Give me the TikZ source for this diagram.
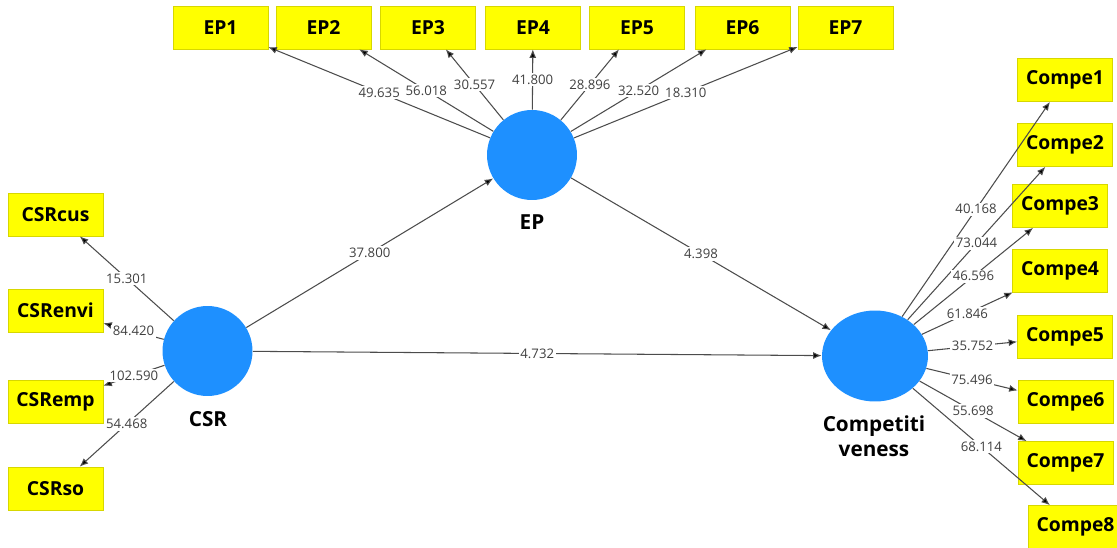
\documentclass[tikz,border=0pt]{standalone}
\usepackage{fontspec}
\setmainfont{Open Sans}
\usepackage{tikz}
\usepackage{xcolor}
\usetikzlibrary{arrows.meta, positioning, shapes.geometric}
\definecolor{lvblue}{RGB}{30,144,255}
\definecolor{mvyellow}{RGB}{255,255,0}
\definecolor{mvborder}{RGB}{215,215,0}
\tikzset{
    latent/.style={circle, fill=lvblue, minimum size=1.8cm, inner sep=0pt}, % blue constructs
    indicator/.style={rectangle, fill=mvyellow, draw=mvborder, minimum width=1.9cm, minimum height=0.86cm, inner sep=0pt, font=\bfseries\fontsize{11}{13}\selectfont}, % yellow items
    lvname/.style={font=\bfseries\fontsize{11.8}{14.2}\selectfont, align=center, inner sep=0pt}, % names under the constructs
    load/.style={draw=black!70, line width=0.6pt, -{Latex[length=0.17cm,width=0.14cm]}}, % arrows
    coef/.style={midway, fill=white, inner sep=1pt, text=black!75, font=\fontsize{7.5}{9}\selectfont}, % t values
}

\begin{document}
\begin{tikzpicture}[x=0.02cm, y=-0.02cm]
    \useasboundingbox (0,0) rectangle (1117,548);

    % Konstrukte
    \node[latent] (csr) at (207.5,351) {};
    \node[latent] (ep) at (532,155) {};
    \node[latent, ellipse, minimum width=2.12cm, minimum height=1.82cm] (comp) at (875,356) {};

    \node[lvname] (csrname) at (208,419.5) {CSR};
    \node[lvname] (epname) at (532,222) {EP};
    \node[lvname, anchor=north] (compname) at (874,415) {Competiti\\veness};

    % Indikatoren EP
    \node[indicator] (ep1) at (220.5,27.5) {EP1};
    \node[indicator] (ep2) at (323.5,27.5) {EP2};
    \node[indicator] (ep3) at (428,27.5) {EP3};
    \node[indicator] (ep4) at (533,27.5) {EP4};
    \node[indicator] (ep5) at (637,27.5) {EP5};
    \node[indicator] (ep6) at (742.5,27.5) {EP6};
    \node[indicator] (ep7) at (845.5,27.5) {EP7};

    % Indikatoren CSR
    \node[indicator] (csrcus) at (55.5,214.5) {CSRcus};
    \node[indicator] (csrenvi) at (55.5,310.5) {CSRenvi};
    \node[indicator] (csremp) at (55.5,401.5) {CSRemp};
    \node[indicator] (csrso) at (55.5,488.5) {CSRso};

    % Indikatoren Competitiveness
    \node[indicator] (compe1) at (1065,80) {Compe1};
    \node[indicator] (compe2) at (1065,145) {Compe2};
    \node[indicator] (compe3) at (1060,206) {Compe3};
    \node[indicator] (compe4) at (1060,270.5) {Compe4};
    \node[indicator] (compe5) at (1065,337) {Compe5};
    \node[indicator] (compe6) at (1065.5,402) {Compe6};
    \node[indicator] (compe7) at (1065.5,463) {Compe7};
    \node[indicator] (compe8) at (1075.5,527) {Compe8};

    % Pfade
    \path[load]
    (csr) edge node[coef] {37.800} (ep)
          edge node[coef] {4.732} (comp)
    (ep)  edge node[coef] {4.398} (comp);

    % Ladungen
    \path[load]
    (ep) edge node[coef] {49.635} (ep1)
         edge node[coef] {56.018} (ep2)
         edge node[coef] {30.557} (ep3)
         edge node[coef] {41.800} (ep4)
         edge node[coef] {28.896} (ep5)
         edge node[coef] {32.520} (ep6)
         edge node[coef] {18.310} (ep7)
    (csr) edge node[coef] {15.301} (csrcus)
          edge node[coef] {84.420} (csrenvi)
          edge node[coef] {102.590} (csremp)
          edge node[coef] {54.468} (csrso)
    (comp) edge node[coef] {40.168} (compe1)
           edge node[coef] {73.044} (compe2)
           edge node[coef] {46.596} (compe3)
           edge node[coef] {61.846} (compe4)
           edge node[coef] {35.752} (compe5)
           edge node[coef] {75.496} (compe6)
           edge node[coef] {55.698} (compe7)
           edge node[coef] {68.114} (compe8);

\end{tikzpicture}
\end{document}
